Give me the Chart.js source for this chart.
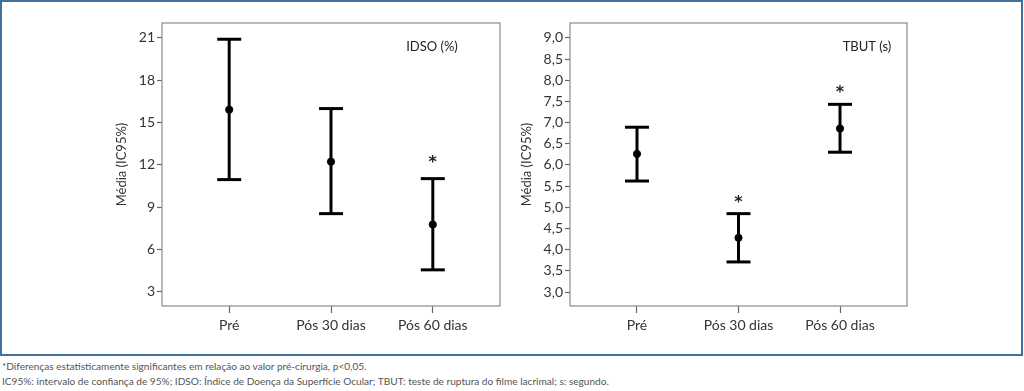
<!DOCTYPE html>
<html>
<head>
<meta charset="utf-8">
<script src="https://cdn.jsdelivr.net/npm/chart.js@4"></script>
<style>
  body { margin: 0; background: #fff; width: 1024px; height: 391px; overflow: hidden; font-family: Lato, sans-serif; }
  #frame { position: absolute; left: 0; top: 0; width: 1019px; height: 352px; border: 2px solid #41709f; }
  .wrap { position: absolute; top: 0; height: 345px; }
  #w1 { left: 100px; width: 415px; }
  #w2 { left: 515px; width: 420px; }
  .note { position: absolute; left: 2px; font-size: 10.1px; color: #555; white-space: nowrap; }
</style>
</head>
<body>
<div id="frame"></div>
<div class="wrap" id="w1"><canvas id="c1"></canvas></div>
<div class="wrap" id="w2"><canvas id="c2"></canvas></div>
<div class="note" style="top:360px">*Diferenças estatisticamente significantes em relação ao valor pré-cirurgia, p&lt;0,05.</div>
<div class="note" style="top:375px">IC95%: intervalo de confiança de 95%; IDSO: Índice de Doença da Superfície Ocular; TBUT: teste de ruptura do filme lacrimal; s: segundo.</div>
<script>
const categories = ['Pré', 'Pós 30 dias', 'Pós 60 dias'];

// IDSO (%)
const idsoMean = [15.9, 12.22, 7.77];
const idsoLow = [10.95, 8.54, 4.56];
const idsoHigh = [20.89, 15.98, 11.02];
const idsoStar = [null, null, 12.4];
const idsoTicks = [3, 6, 9, 12, 15, 18, 21];

// TBUT (s)
const tbutMean = [6.26, 4.28, 6.86];
const tbutLow = [5.62, 3.71, 6.30];
const tbutHigh = [6.89, 4.85, 7.43];
const tbutStar = [null, 5.19, 7.79];
const tbutTicks = [3.0, 3.5, 4.0, 4.5, 5.0, 5.5, 6.0, 6.5, 7.0, 7.5, 8.0, 8.5, 9.0];

Chart.defaults.font.family = 'Lato, sans-serif';
Chart.defaults.color = '#333';

const boxPlugin = {
    id: 'box',
    afterDraw(chart, args, opts) {
        const { ctx, chartArea: a, scales } = chart;
        ctx.save();
        ctx.strokeStyle = '#8a8a8a';
        ctx.lineWidth = 1.2;
        ctx.strokeRect(a.left, a.top, a.right - a.left, a.bottom - a.top);
        ctx.fillStyle = '#222';
        ctx.font = '13px Lato, sans-serif';
        ctx.textAlign = 'center';
        ctx.textBaseline = 'middle';
        ctx.fillText(opts.label, a.right - opts.labelRight, a.top + 24);
        // significance markers
        ctx.font = 'bold 16px "DejaVu Sans", sans-serif';
        opts.stars.forEach((v, i) => {
            if (v === null) return;
            ctx.fillText('*', scales.x.getPixelForValue(i), scales.y.getPixelForValue(v) + 4);
        });
        ctx.restore();
    }
};

function makeChart(id, mean, low, high, stars, yTicks, yMin, yMax, fmt, yWidth, padRight, titlePad, label, labelRight) {
    const datasets = categories.map((c, i) => ({
        type: 'line',
        data: [{ x: i, y: low[i] }, { x: i, y: high[i] }],
        borderColor: '#000',
        borderWidth: 3,
        pointStyle: 'line',
        pointRadius: 12,
        pointBorderWidth: 3,
        pointBorderColor: '#000'
    }));
    datasets.push({
        type: 'scatter',
        data: mean.map((v, i) => ({ x: i, y: v })),
        backgroundColor: '#000',
        borderColor: '#000',
        pointRadius: 3.6
    });

    new Chart(document.getElementById(id), {
        type: 'scatter',
        data: { datasets: datasets },
        options: {
            responsive: true,
            maintainAspectRatio: false,
            animation: false,
            layout: { padding: { top: 23, right: padRight, left: 0, bottom: 0 } },
            plugins: {
                legend: { display: false },
                tooltip: { enabled: false },
                box: { label: label, labelRight: labelRight, stars: stars }
            },
            scales: {
                x: {
                    type: 'linear',
                    min: -0.66,
                    max: 2.66,
                    afterBuildTicks: s => { s.ticks = categories.map((c, i) => ({ value: i })); },
                    afterFit: s => { s.height = 39; },
                    grid: { drawOnChartArea: false, tickLength: 7, color: '#666', tickWidth: 1.2 },
                    border: { display: false },
                    ticks: { callback: v => categories[v], font: { size: 14 }, padding: 4, color: '#333', maxRotation: 0 }
                },
                y: {
                    min: yMin,
                    max: yMax,
                    afterBuildTicks: s => { s.ticks = yTicks.map(v => ({ value: v })); },
                    afterFit: s => { s.width = yWidth; },
                    grid: { drawOnChartArea: false, tickLength: 5, color: '#666', tickWidth: 1.2 },
                    border: { display: false },
                    ticks: { callback: fmt, font: { size: 14 }, padding: 2, color: '#333' },
                    title: { display: true, text: 'Média (IC95%)', font: { size: 13 }, color: '#333', padding: { top: titlePad, bottom: 0 } }
                }
            }
        },
        plugins: [boxPlugin]
    });
}

makeChart('c1', idsoMean, idsoLow, idsoHigh, idsoStar, idsoTicks, 2.0, 22.04,
    v => String(v), 62, 12, 14, 'IDSO (%)', 68);
makeChart('c2', tbutMean, tbutLow, tbutHigh, tbutStar, tbutTicks, 2.67, 9.35,
    v => v.toFixed(1).replace('.', ','), 55, 28, 4, 'TBUT (s)', 40);
</script>
</body>
</html>
